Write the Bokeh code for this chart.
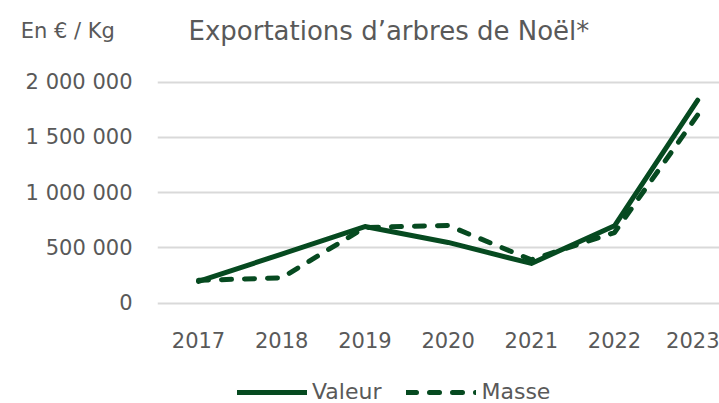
from bokeh.plotting import figure
from bokeh.models import Range1d, FixedTicker, Label, Legend, LegendItem, LinearAxis
from bokeh.embed import file_html
from bokeh.resources import INLINE

years = ["2017", "2018", "2019", "2020", "2021", "2022", "2023"]
valeur = [195000, 443000, 692000, 548000, 358000, 699000, 1835000]
masse = [205000, 228000, 683000, 702000, 391000, 638000, 1702000]
y_ticks = [0, 500000, 1000000, 1500000, 2000000]
y_tick_labels = ["0", "500 000", "1 000 000", "1 500 000", "2 000 000"]
title_text = "Exportations d’arbres de Noël*"
unit_text = "En €  / Kg"

GREEN = "#064a20"
GRAY = "#595959"
FONT = "DejaVu Sans"

# layout (pixels): frame spans the whole height 0..403, 0 at 302.5, 2 000 000 at 81.5
H = 403
Y_TOP = 2000000
PX0, PX_TOP = 302.5, 81.5
upp = Y_TOP / (PX0 - PX_TOP)            # units per pixel
y_start = -(H - PX0) * upp
y_end = PX0 * upp
header_y = (PX0 - 30) * upp             # vertical centre of header texts

xs = list(range(len(years)))

p = figure(width=719, height=H, output_backend="svg", toolbar_location=None,
           x_range=Range1d(-0.493, 6.262), y_range=Range1d(y_start, y_end),
           min_border_left=157, min_border_right=0, min_border_top=0,
           min_border_bottom=0)
p.outline_line_color = None

r1 = p.line(xs, valeur, line_color=GREEN, line_width=5, line_join="round", line_cap="round")
r2 = p.line(xs, masse, line_color=GREEN, line_width=5, line_join="round", line_cap="round",
            line_dash="10 13")

p.xgrid.grid_line_color = None
p.ygrid.grid_line_color = "#d9d9d9"
p.ygrid.grid_line_width = 2

unit_axis = LinearAxis(ticker=FixedTicker(ticks=[header_y]),
                       major_label_overrides={header_y: unit_text})
p.add_layout(unit_axis, "left")

for ax in (p.xaxis[0], p.yaxis[0], unit_axis):
    ax.axis_line_color = None
    ax.major_tick_line_color = None
    ax.minor_tick_line_color = None
    ax.major_tick_out = 0
    ax.major_tick_in = 0
    ax.minor_tick_out = 0
    ax.major_label_text_color = GRAY
    ax.major_label_text_font = FONT
    ax.major_label_text_font_size = "21px"

p.yaxis[0].ticker = FixedTicker(ticks=y_ticks)
p.yaxis[0].major_label_overrides = {t: l for t, l in zip(y_ticks, y_tick_labels)}
p.yaxis[0].major_label_standoff = 25
p.ygrid.ticker = FixedTicker(ticks=y_ticks)
unit_axis.major_label_standoff = -99
unit_axis.major_label_text_font_size = "21px"
p.xaxis.ticker = FixedTicker(ticks=xs)
p.xaxis.major_label_overrides = {i: y for i, y in zip(xs, years)}
p.xaxis.major_label_standoff = -72

p.add_layout(Label(x=-0.493 + (188 - 157) / 83.2, y=header_y, text=title_text,
                   text_font=FONT, text_font_size="26px", text_color=GRAY,
                   text_baseline="middle"))

legend = Legend(items=[LegendItem(label="Valeur", renderers=[r1]),
                       LegendItem(label="Masse", renderers=[r2])],
                orientation="horizontal", location=(80, -1),
                glyph_width=70, glyph_height=20, label_standoff=5, spacing=25,
                padding=0, margin=0, border_line_alpha=0, background_fill_alpha=0,
                label_text_font=FONT, label_text_font_size="22px", label_text_color=GRAY)
p.add_layout(legend, "center")

open("out.html", "w").write(file_html(p, INLINE))
